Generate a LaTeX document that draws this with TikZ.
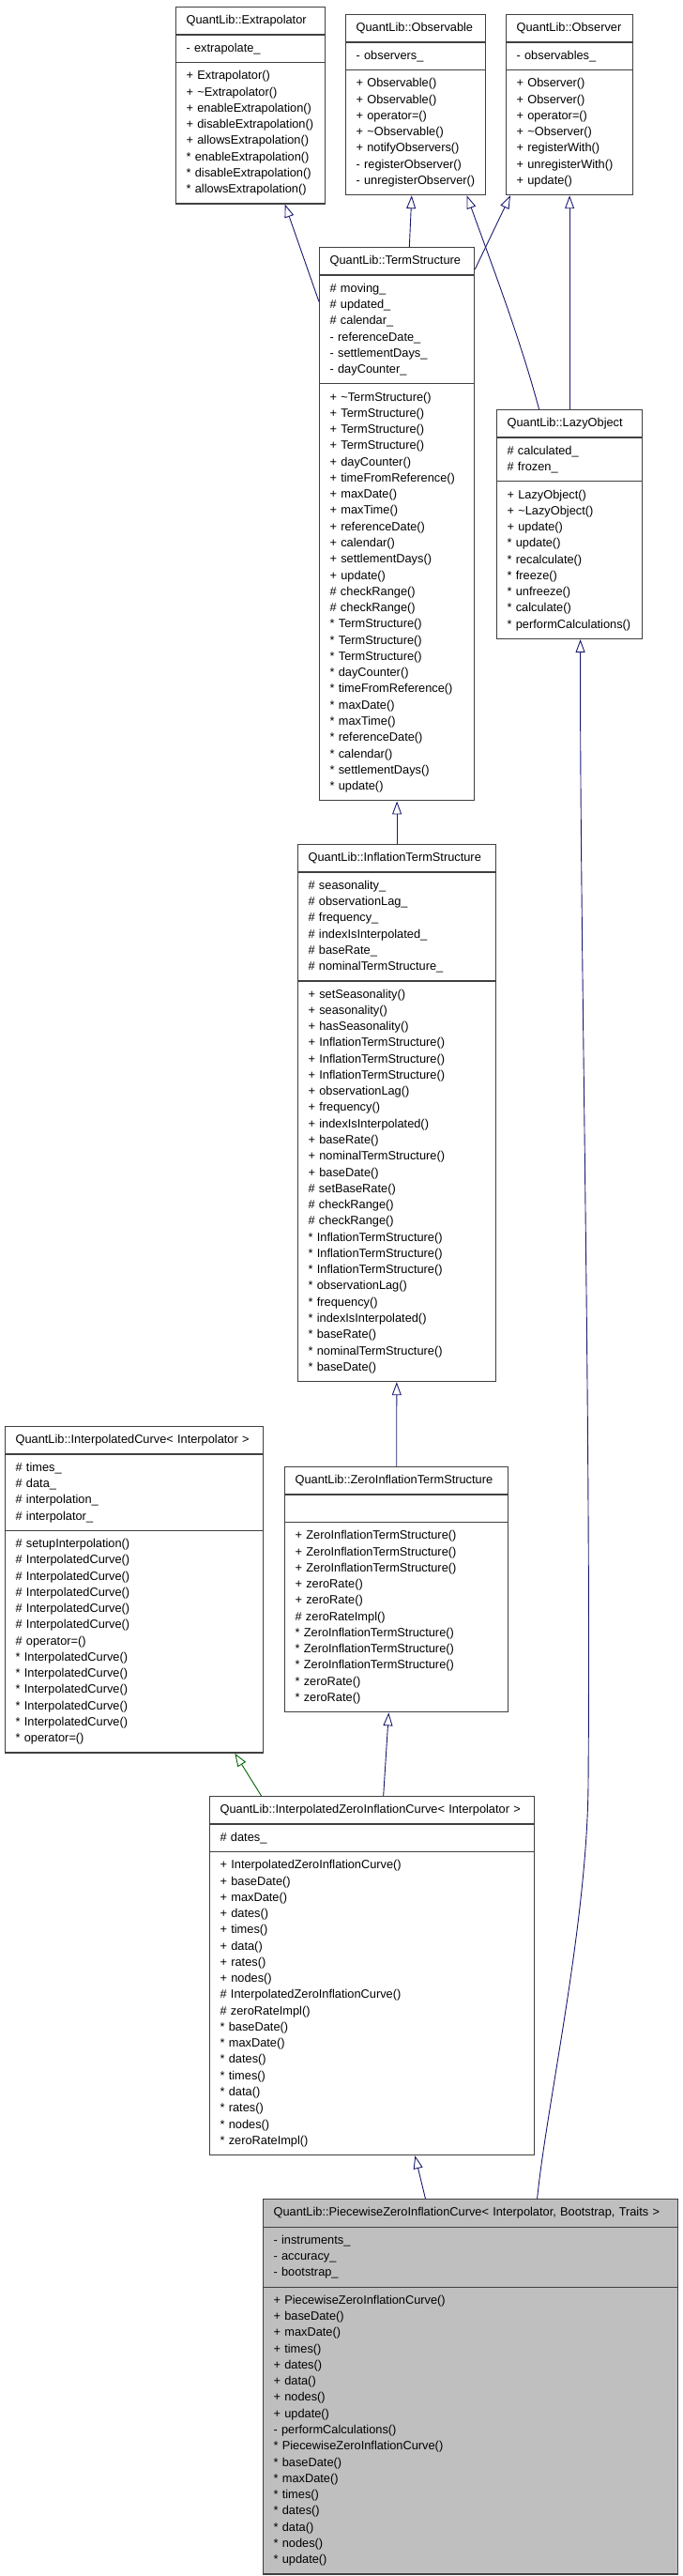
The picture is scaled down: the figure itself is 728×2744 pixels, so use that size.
\documentclass[tikz,border=0pt]{standalone}
\usepackage{fontspec}
\setmainfont{Liberation Sans}
\usetikzlibrary{shapes.multipart,arrows.meta}
\definecolor{edgeblue}{HTML}{191970}
\definecolor{edgegreen}{HTML}{006400}
\definecolor{boxline}{HTML}{404040}
\definecolor{boxgray}{HTML}{BFBFBF}
\begin{document}
\begin{tikzpicture}[x=1pt, y=-1pt,
	umlclass/.style={rectangle split, rectangle split parts=3, draw=boxline, fill=white,
		line width=1.2pt, align=left, inner xsep=11pt, inner ysep=5.5pt, anchor=north west,
		font=\fontsize{12.8}{17.27}\selectfont},
	inherit/.style={draw=edgeblue, line width=0.9pt, -{Triangle[open, length=14pt, width=10pt]}},
	inherit tpl/.style={inherit, draw=edgegreen}
	]
	\useasboundingbox (0,0) rectangle (728,2744);

	% top row
	\node[umlclass, text width=137pt] (extrap) at (187,7) {\centering\strut QuantLib::Extrapolator
		\nodepart{second}\strut - extrapolate\_\strut
		\nodepart{third}\strut + Extrapolator()\\
		+ \textasciitilde Extrapolator()\\
		+ enableExtrapolation()\\
		+ disableExtrapolation()\\
		+ allowsExtrapolation()\\
		{*} enableExtrapolation()\\
		{*} disableExtrapolation()\\
		{*} allowsExtrapolation()\strut};
	\node[umlclass, text width=127pt] (obsable) at (368,15) {\centering\strut QuantLib::Observable
		\nodepart{second}\strut - observers\_\strut
		\nodepart{third}\strut + Observable()\\
		+ Observable()\\
		+ operator=()\\
		+ \textasciitilde Observable()\\
		+ notifyObservers()\\
		- registerObserver()\\
		- unregisterObserver()\strut};
	\node[umlclass, text width=113pt] (obsver) at (539,15) {\centering\strut QuantLib::Observer
		\nodepart{second}\strut - observables\_\strut
		\nodepart{third}\strut + Observer()\\
		+ Observer()\\
		+ operator=()\\
		+ \textasciitilde Observer()\\
		+ registerWith()\\
		+ unregisterWith()\\
		+ update()\strut};

	% term structures
	\node[umlclass, text width=143pt] (ts) at (340,263) {\centering\strut QuantLib::TermStructure
		\nodepart{second}\strut \# moving\_\\
		\# updated\_\\
		\# calendar\_\\
		- referenceDate\_\\
		- settlementDays\_\\
		- dayCounter\_\strut
		\nodepart{third}\strut + \textasciitilde TermStructure()\\
		+ TermStructure()\\
		+ TermStructure()\\
		+ TermStructure()\\
		+ dayCounter()\\
		+ timeFromReference()\\
		+ maxDate()\\
		+ maxTime()\\
		+ referenceDate()\\
		+ calendar()\\
		+ settlementDays()\\
		+ update()\\
		\# checkRange()\\
		\# checkRange()\\
		{*} TermStructure()\\
		{*} TermStructure()\\
		{*} TermStructure()\\
		{*} dayCounter()\\
		{*} timeFromReference()\\
		{*} maxDate()\\
		{*} maxTime()\\
		{*} referenceDate()\\
		{*} calendar()\\
		{*} settlementDays()\\
		{*} update()\strut};
	\node[umlclass, text width=133pt] (lazy) at (529,436) {\centering\strut QuantLib::LazyObject
		\nodepart{second}\strut \# calculated\_\\
		\# frozen\_\strut
		\nodepart{third}\strut + LazyObject()\\
		+ \textasciitilde LazyObject()\\
		+ update()\\
		{*} update()\\
		{*} recalculate()\\
		{*} freeze()\\
		{*} unfreeze()\\
		{*} calculate()\\
		{*} performCalculations()\strut};
	\node[umlclass, text width=189pt] (its) at (317,899) {\centering\strut QuantLib::InflationTermStructure
		\nodepart{second}\strut \# seasonality\_\\
		\# observationLag\_\\
		\# frequency\_\\
		\# indexIsInterpolated\_\\
		\# baseRate\_\\
		\# nominalTermStructure\_\strut
		\nodepart{third}\strut + setSeasonality()\\
		+ seasonality()\\
		+ hasSeasonality()\\
		+ InflationTermStructure()\\
		+ InflationTermStructure()\\
		+ InflationTermStructure()\\
		+ observationLag()\\
		+ frequency()\\
		+ indexIsInterpolated()\\
		+ baseRate()\\
		+ nominalTermStructure()\\
		+ baseDate()\\
		\# setBaseRate()\\
		\# checkRange()\\
		\# checkRange()\\
		{*} InflationTermStructure()\\
		{*} InflationTermStructure()\\
		{*} InflationTermStructure()\\
		{*} observationLag()\\
		{*} frequency()\\
		{*} indexIsInterpolated()\\
		{*} baseRate()\\
		{*} nominalTermStructure()\\
		{*} baseDate()\strut};
	\node[umlclass, text width=253pt] (icurve) at (5,1519) {\centering\strut QuantLib::InterpolatedCurve< Interpolator >
		\nodepart{second}\strut \# times\_\\
		\# data\_\\
		\# interpolation\_\\
		\# interpolator\_\strut
		\nodepart{third}\strut \# setupInterpolation()\\
		\# InterpolatedCurve()\\
		\# InterpolatedCurve()\\
		\# InterpolatedCurve()\\
		\# InterpolatedCurve()\\
		\# InterpolatedCurve()\\
		\# operator=()\\
		{*} InterpolatedCurve()\\
		{*} InterpolatedCurve()\\
		{*} InterpolatedCurve()\\
		{*} InterpolatedCurve()\\
		{*} InterpolatedCurve()\\
		{*} operator=()\strut};
	\node[umlclass, text width=216pt] (zits) at (303,1562) {\centering\strut QuantLib::ZeroInflationTermStructure
		\nodepart{second}\strut
		\nodepart{third}\strut + ZeroInflationTermStructure()\\
		+ ZeroInflationTermStructure()\\
		+ ZeroInflationTermStructure()\\
		+ zeroRate()\\
		+ zeroRate()\\
		\# zeroRateImpl()\\
		{*} ZeroInflationTermStructure()\\
		{*} ZeroInflationTermStructure()\\
		{*} ZeroInflationTermStructure()\\
		{*} zeroRate()\\
		{*} zeroRate()\strut};
	\node[umlclass, text width=324pt] (izic) at (223,1913) {\centering\strut QuantLib::InterpolatedZeroInflationCurve< Interpolator >
		\nodepart{second}\strut \# dates\_\strut
		\nodepart{third}\strut + InterpolatedZeroInflationCurve()\\
		+ baseDate()\\
		+ maxDate()\\
		+ dates()\\
		+ times()\\
		+ data()\\
		+ rates()\\
		+ nodes()\\
		\# InterpolatedZeroInflationCurve()\\
		\# zeroRateImpl()\\
		{*} baseDate()\\
		{*} maxDate()\\
		{*} dates()\\
		{*} times()\\
		{*} data()\\
		{*} rates()\\
		{*} nodes()\\
		{*} zeroRateImpl()\strut};
	\node[umlclass, fill=boxgray, text width=420pt] (pzic) at (280,2342) {\centering\strut QuantLib::PiecewiseZeroInflationCurve< Interpolator, Bootstrap, Traits >
		\nodepart{second}\strut - instruments\_\\
		- accuracy\_\\
		- bootstrap\_\strut
		\nodepart{third}\strut + PiecewiseZeroInflationCurve()\\
		+ baseDate()\\
		+ maxDate()\\
		+ times()\\
		+ dates()\\
		+ data()\\
		+ nodes()\\
		+ update()\\
		- performCalculations()\\
		{*} PiecewiseZeroInflationCurve()\\
		{*} baseDate()\\
		{*} maxDate()\\
		{*} times()\\
		{*} dates()\\
		{*} data()\\
		{*} nodes()\\
		{*} update()\strut};

	% inheritance
	\draw[inherit] (ts) -- (extrap);
	\draw[inherit] (ts) -- (obsable);
	\draw[inherit] ([yshift=-24pt]ts.north east) -- ([xshift=5pt]obsver.south west);
	\draw[inherit] ([xshift=-32.5pt]lazy.north) .. controls +(-21,-78) and +(27,75) .. ([xshift=54.5pt]obsable.south);
	\draw[inherit] (lazy) -- (obsver);
	\draw[inherit] (its) -- (ts);
	\draw[inherit] (zits) -- (its);
	\draw[inherit] (izic) -- (zits);
	\draw[inherit tpl] (izic) -- (icurve);
	\draw[inherit] (pzic) -- (izic);
	\draw[inherit] ([xshift=71pt]pzic.north) .. controls +(10,-100) and (626,2050) .. (627,1900)
		.. controls (630,1500) and (618,1000) .. ([xshift=11.5pt]lazy.south);
\end{tikzpicture}
\end{document}
